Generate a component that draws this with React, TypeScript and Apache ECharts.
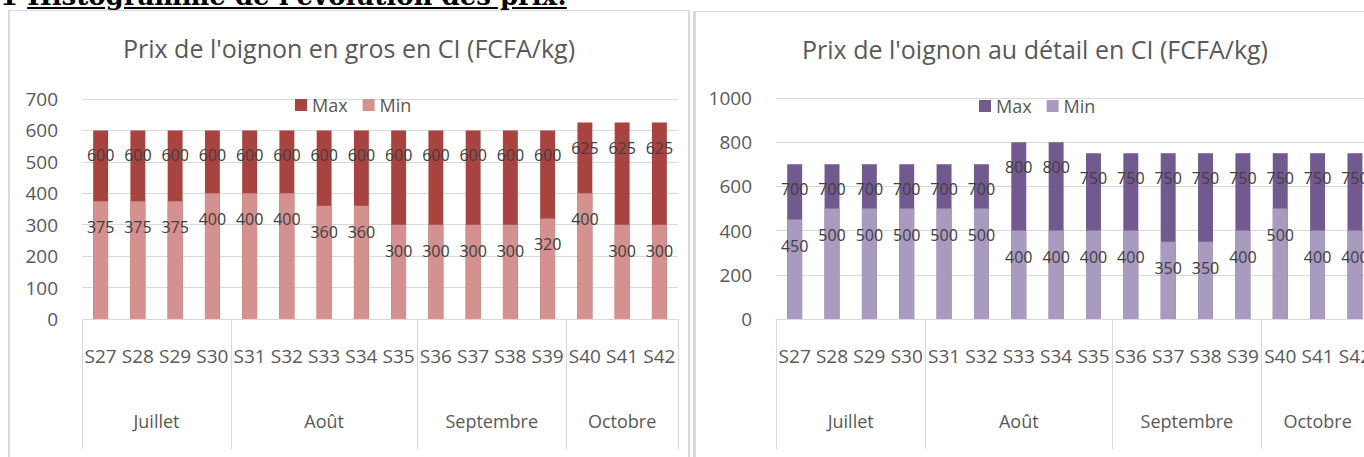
import React, { useEffect, useRef } from "react";
import * as echarts from "echarts";

const weeks = ["S27", "S28", "S29", "S30", "S31", "S32", "S33", "S34", "S35", "S36", "S37", "S38", "S39", "S40", "S41", "S42"];
const months = ["Juillet", "Août", "Septembre", "Octobre"];
const monthSpans = [4, 5, 4, 3];

const grosMax = [600, 600, 600, 600, 600, 600, 600, 600, 600, 600, 600, 600, 600, 625, 625, 625];
const grosMin = [375, 375, 375, 400, 400, 400, 360, 360, 300, 300, 300, 300, 320, 400, 300, 300];

const detailMax = [700, 700, 700, 700, 700, 700, 800, 800, 750, 750, 750, 750, 750, 750, 750, 750];
const detailMin = [450, 500, 500, 500, 500, 500, 400, 400, 400, 400, 350, 350, 400, 500, 400, 400];

const grosTicks = [0, 100, 200, 300, 400, 500, 600, 700];
const detailTicks = [0, 200, 400, 600, 800, 1000];

const FONT = "Open Sans";
const GRID_COLOR = "#D9D9D9";

type Cfg = {
  title: string;
  maxData: number[];
  minData: number[];
  ticks: number[];
  maxColor: string;
  minColor: string;
  legendLeft: number;
  gridLeft: number;
  gridRight: number;
  gridTop: number;
  gridHeight: number;
};

function makeOption(c: Cfg) {
  const bounds: number[] = [0];
  monthSpans.forEach((s) => bounds.push(bounds[bounds.length - 1] + s));
  const centers = monthSpans.map((s, i) => bounds[i] + s / 2);
  const labelStyle = (d: number) => ({
    show: true,
    position: "insideTop",
    distance: d,
    fontFamily: FONT,
    fontSize: 16,
    color: "#404040",
  });
  return {
    animation: false,
    title: {
      text: c.title,
      left: "center",
      top: 19,
      textStyle: { fontFamily: FONT, fontSize: 25, fontWeight: "normal", color: "#595959" },
    },
    legend: {
      data: ["Max", "Min"],
      left: c.legendLeft,
      top: 85,
      padding: 0,
      itemWidth: 12,
      itemHeight: 12,
      itemGap: 15,
      icon: "rect",
      textStyle: { fontFamily: FONT, fontSize: 18, color: "#595959" },
    },
    grid: { left: c.gridLeft, right: c.gridRight, top: c.gridTop, height: c.gridHeight },
    xAxis: [
      {
        type: "category",
        data: weeks,
        boundaryGap: true,
        axisLine: { show: true, lineStyle: { color: GRID_COLOR } },
        axisTick: { show: false },
        axisLabel: { interval: 0, margin: 27, fontFamily: FONT, fontSize: 19, color: "#595959" },
      },
      {
        type: "value",
        min: 0,
        max: weeks.length,
        position: "bottom",
        axisLine: { show: false },
        splitLine: { show: false },
        axisTick: { show: true, customValues: bounds, length: 130, lineStyle: { color: GRID_COLOR } },
        axisLabel: {
          customValues: centers,
          margin: 93,
          fontFamily: FONT,
          fontSize: 18,
          color: "#595959",
          formatter: (v: number) => {
            const i = centers.indexOf(v);
            return i >= 0 ? months[i] : "";
          },
        },
      },
    ],
    yAxis: {
      type: "value",
      min: c.ticks[0],
      max: c.ticks[c.ticks.length - 1],
      interval: c.ticks[1] - c.ticks[0],
      axisLine: { show: false },
      axisTick: { show: false },
      splitLine: { lineStyle: { color: GRID_COLOR } },
      axisLabel: {
        margin: 24,
        fontFamily: FONT,
        fontSize: 19,
        color: "#595959",
        formatter: (v: number) => String(v),
      },
    },
    series: [
      {
        name: "Max",
        type: "bar",
        data: c.maxData,
        barWidth: "40%",
        barGap: "-100%",
        itemStyle: { color: c.maxColor },
        label: labelStyle(17),
      },
      {
        name: "Min",
        type: "bar",
        data: c.minData,
        barWidth: "40%",
        barGap: "-100%",
        itemStyle: { color: c.minColor },
        label: labelStyle(18),
      },
    ],
  };
}

function Chart({ cfg, style }: { cfg: Cfg; style: React.CSSProperties }) {
  const ref = useRef<HTMLDivElement>(null);
  useEffect(() => {
    if (!ref.current) return;
    const chart = echarts.init(ref.current, null, { renderer: "svg" });
    chart.setOption(makeOption(cfg) as any);
    return () => chart.dispose();
  }, []);
  return <div ref={ref} style={style} />;
}

export default function App() {
  return (
    <div
      style={{
        position: "fixed",
        left: 0,
        top: 0,
        width: 1364,
        height: 457,
        overflow: "hidden",
        background: "#fff",
      }}
    >
      <div
        style={{
          position: "absolute",
          left: 0,
          top: -17,
          fontFamily: "DejaVu Serif",
          fontWeight: "bold",
          fontSize: 26,
          lineHeight: "26px",
          whiteSpace: "nowrap",
          color: "#000",
        }}
      >
        1 <span style={{ textDecoration: "underline" }}>Histogramme de l'évolution des prix:</span>
      </div>
      <div
        style={{
          position: "absolute",
          left: 8,
          top: 10,
          width: 682,
          height: 460,
          boxSizing: "border-box",
          borderLeft: "2px solid #D9D9D9",
          borderRight: "2px solid #D9D9D9",
          borderTop: "1px solid #D9D9D9",
        }}
      >
        <Chart
          cfg={{
            title: "Prix de l'oignon en gros en CI (FCFA/kg)",
            maxData: grosMax,
            minData: grosMin,
            ticks: grosTicks,
            maxColor: "#A8433F",
            minColor: "#D4918F",
            legendLeft: 285,
            gridLeft: 72,
            gridRight: 10,
            gridTop: 88,
            gridHeight: 220,
          }}
          style={{ position: "absolute", left: 0, top: 0, width: 678, height: 455 }}
        />
      </div>
      <div
        style={{
          position: "absolute",
          left: 693,
          top: 11,
          width: 700,
          height: 460,
          boxSizing: "border-box",
          borderLeft: "3px solid #D9D9D9",
          borderTop: "1px solid #D9D9D9",
        }}
      >
        <Chart
          cfg={{
            title: "Prix de l'oignon au détail en CI (FCFA/kg)",
            maxData: detailMax,
            minData: detailMin,
            ticks: detailTicks,
            maxColor: "#725990",
            minColor: "#A99BC0",
            legendLeft: 283,
            gridLeft: 80,
            gridRight: 0,
            gridTop: 86,
            gridHeight: 221,
          }}
          style={{ position: "absolute", left: 0, top: 0, width: 678, height: 455 }}
        />
      </div>
    </div>
  );
}
